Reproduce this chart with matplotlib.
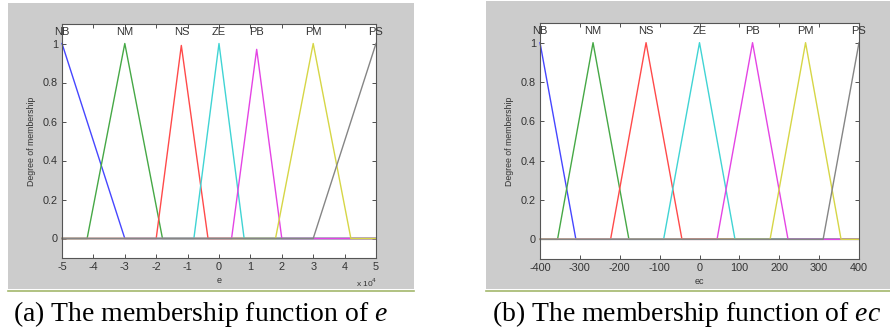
import numpy as np
import matplotlib.pyplot as plt
from matplotlib.patches import Rectangle
from matplotlib.lines import Line2D

plt.rcParams['font.family'] = ['Liberation Sans', 'DejaVu Sans']
plt.rcParams['mathtext.fontset'] = 'custom'
plt.rcParams['mathtext.it'] = 'Liberation Serif:italic'
plt.rcParams['mathtext.rm'] = 'Liberation Serif'

# ---- data ----
mf_names = ['NB', 'NM', 'NS', 'ZE', 'PB', 'PM', 'PS']
mf_colors = ['#4646ff', '#46a846', '#ff4a4a', '#40d4d4', '#e444e4', '#d6d646', '#858585']

# panel (a): e, in units of 1e4 ; (left foot, peak, right foot), peak height
e_left  = [None, -4.2, -2.0, -0.8, 0.4, 1.8, 3.0]
e_peak  = [-5.0, -3.0, -1.2,  0.0, 1.2, 3.0, 5.0]
e_right = [-3.0, -1.8, -0.35, 0.8, 2.0, 4.2, None]
e_height = [1.0, 1.0, 0.99, 1.0, 0.97, 1.0, 1.0]
e_range = (-5, 5)
e_ticks = [-5, -4, -3, -2, -1, 0, 1, 2, 3, 4, 5]

# panel (b): ec
ec_left  = [None, -356, -223, -90, 44, 177, 310]
ec_peak  = [-400, -267, -134,   0, 133, 266, 400]
ec_right = [-310, -177,  -44,  89, 222, 355, None]
ec_height = [1.0, 1.0, 1.0, 1.0, 1.0, 1.0, 1.0]
ec_range = (-400, 400)
ec_ticks = [-400, -300, -200, -100, 0, 100, 200, 300, 400]

W, H = 890, 335
fig = plt.figure(figsize=(W / 100, H / 100), dpi=100)
fig.patch.set_facecolor('white')

def px_rect(x0, y0, x1, y1):
    return [x0 / W, 1 - y1 / H, (x1 - x0) / W, (y1 - y0) / H]

# gray panels and the green rule under them
for (x0, y0, x1, y1) in [(8, 3, 414, 289), (486, 1, 890, 289)]:
    l, b, w, h = px_rect(x0, y0, x1, y1)
    fig.patches.append(Rectangle((l, b), w, h, transform=fig.transFigure,
                                 facecolor='#cccccc', edgecolor='none', zorder=-10))
    fig.lines.append(Line2D([x0 / W, x1 / W], [1 - 290.5 / H] * 2, transform=fig.transFigure,
                            color='#a3b86c', lw=1.2, zorder=-10))

def draw_panel(rect, left, peak, right, height, xr, ticks, xlabel, ticklabels):
    ax = fig.add_axes(rect)
    lo, hi = xr
    for i, name in enumerate(mf_names):
        if left[i] is None:
            xs = [lo, right[i], hi]
            ys = [height[i], 0, 0]
        elif right[i] is None:
            xs = [lo, left[i], hi]
            ys = [0, 0, height[i]]
        else:
            xs = [lo, left[i], peak[i], right[i], hi]
            ys = [0, 0, height[i], 0, 0]
        ax.plot(xs, ys, color=mf_colors[i], lw=1.0, clip_on=False)
        ax.text(peak[i], 1.06, name, ha='center', va='center', fontsize=8, color='#333333')
    ax.set_xlim(lo, hi)
    ax.set_ylim(-0.1, 1.1)
    ax.set_xticks(ticks)
    ax.set_xticklabels(ticklabels)
    ax.set_yticks([0, 0.2, 0.4, 0.6, 0.8, 1])
    ax.set_yticklabels(['0', '0.2', '0.4', '0.6', '0.8', '1'])
    ax.tick_params(direction='in', top=True, right=True, length=3, width=0.6,
                   labelsize=7.8, colors='#333333', pad=3)
    for s in ax.spines.values():
        s.set_color('#555555')
        s.set_linewidth(0.8)
    ax.set_xlabel(xlabel, fontsize=6.5, color='#333333', labelpad=3)
    ax.set_ylabel('Degree of membership', fontsize=6.3, color='#333333', labelpad=5)
    return ax

ax1 = draw_panel(px_rect(62, 24, 376, 258), e_left, e_peak, e_right, e_height,
                 e_range, e_ticks, 'e', [str(t) for t in e_ticks])
fig.text(367 / W, 1 - 283 / H, r'x 10$^4$', fontsize=6, color='#333333', ha='center', va='center',
         math_fontfamily='dejavusans')

ax2 = draw_panel(px_rect(540, 23, 859, 259), ec_left, ec_peak, ec_right, ec_height,
                 ec_range, ec_ticks, 'ec', [str(t) for t in ec_ticks])

# captions
fig.text(13 / W, 1 - 314 / H, r'(a) The membership function of $e$', fontsize=20,
         family='Liberation Serif', ha='left', va='center')
fig.text(492 / W, 1 - 314 / H, r'(b) The membership function of $ec$', fontsize=20,
         family='Liberation Serif', ha='left', va='center')

fig.savefig('out.png', dpi=100)
